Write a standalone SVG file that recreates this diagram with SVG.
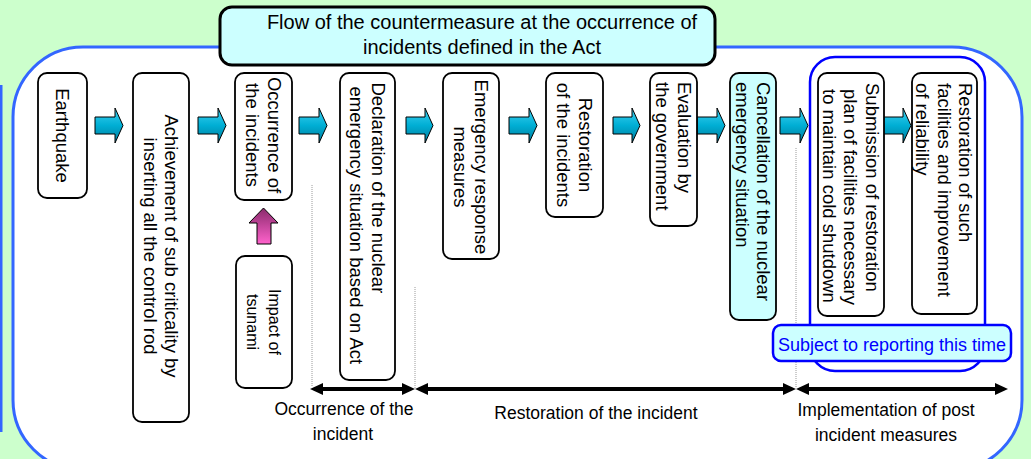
<svg xmlns="http://www.w3.org/2000/svg" width="1031" height="459" viewBox="0 0 1031 459">
<defs>
<style>
.node rect{fill:#fff;stroke:#000;stroke-width:1.8}
.node text,.lbl{font-family:"Liberation Sans",Arial,sans-serif;fill:#000}
.node text{font-size:18.5px}
.lbl{font-size:17.5px;text-anchor:middle}
.title{font-family:"Liberation Sans",Arial,sans-serif;font-size:20px;text-anchor:middle;fill:#000}
.carrow{fill:url(#cyanGrad);stroke:#000;stroke-width:1}
.dot{stroke:#9a9a9a;stroke-width:1;stroke-dasharray:1,1}
.tl{stroke:#000;stroke-width:4;marker-start:url(#ah);marker-end:url(#ah)}
</style>
<linearGradient id="cyanGrad" x1="0" y1="0" x2="0" y2="1">
<stop offset="0" stop-color="#3fd2f2"/>
<stop offset="0.5" stop-color="#00aed4"/>
<stop offset="1" stop-color="#007c9c"/>
</linearGradient>
<linearGradient id="pinkGrad" x1="0" y1="0" x2="0" y2="1">
<stop offset="0" stop-color="#8a2a6c"/>
<stop offset="1" stop-color="#ff62cc"/>
</linearGradient>
<marker id="ah" markerUnits="userSpaceOnUse" markerWidth="14" markerHeight="12" refX="5" refY="6" orient="auto-start-reverse">
<path d="M0,0 L13,6 L0,12 Z" fill="#000"/>
</marker>
</defs>
<rect width="1031" height="459" fill="#ccffcc"/>
<path d="M1,85 V432" stroke="#3366ff" stroke-width="3" fill="none"/>
<rect id="panel" x="13" y="47" width="1009" height="423" rx="70" ry="70" fill="#fff" stroke="#3366ff" stroke-width="3"/>

<g id="title">
<rect x="220" y="7" width="495" height="58" rx="12" fill="#ccffff" stroke="#000" stroke-width="3"/>
<text class="title" x="482" y="28.5">Flow of the countermeasure at the occurrence of</text>
<text class="title" x="482" y="53.5">incidents defined in the Act</text>
</g>

<g id="subject-group">
<rect x="810" y="57" width="175" height="314" rx="25" fill="none" stroke="#0000ff" stroke-width="2.5"/>
</g>

<g id="connectors">
<path class="dot" d="M312,185 V386"/>
<path class="dot" d="M415,287 V388"/>
<path class="dot" d="M796,148 V388"/>
<path class="carrow" d="M95,117 H115 V108 L123,125.5 L115,143 V134 H95 Z"/>
<path class="carrow" d="M198,117 H218 V108 L226,125.5 L218,143 V134 H198 Z"/>
<path class="carrow" d="M299,117 H319 V108 L327,125.5 L319,143 V134 H299 Z"/>
<path class="carrow" d="M406,117 H425 V108 L433,125.5 L425,143 V134 H406 Z"/>
<path class="carrow" d="M509,117 H529 V108 L537,125.5 L529,143 V134 H509 Z"/>
<path class="carrow" d="M613,117 H632 V108 L640,125.5 L632,143 V134 H613 Z"/>
<path class="carrow" d="M697,117 H717 V108 L725,125.5 L717,143 V134 H697 Z"/>
<path class="carrow" d="M780,117 H800 V108 L808,125.5 L800,143 V134 H780 Z"/>
<path class="carrow" d="M883,117 H903 V108 L911,125.5 L903,143 V134 H883 Z"/>
<path d="M257,244 V223 H249 L263.5,208 L278,223 H271 V244 Z" fill="url(#pinkGrad)" stroke="#000" stroke-width="1"/>
<line class="tl" x1="318" y1="389" x2="407" y2="389"/>
<line class="tl" x1="423" y1="389" x2="788" y2="389"/>
<line class="tl" x1="804" y1="389" x2="1000" y2="389"/>
</g>

<g id="n-earthquake" class="node">
<rect x="38" y="73" width="49" height="125" rx="9"/>
<g transform="translate(62.5,135.5) rotate(90)"><text x="0" y="6.6" text-anchor="middle">Earthquake</text></g>
</g>
<g id="n-subcriticality" class="node">
<rect x="133" y="73" width="56" height="349" rx="9"/>
<g transform="translate(161,247.5) rotate(90)" text-anchor="middle">
<text x="-1.5" y="-4.15">Achievement of sub criticality by</text>
<text x="-1.5" y="17.35">inserting all the control rod</text>
</g>
</g>
<g id="n-occurrence" class="node">
<rect x="235" y="73" width="57" height="127" rx="9"/>
<g transform="translate(263.5,136.5) rotate(90)" text-anchor="middle">
<text x="-1.5" y="-4.15">Occurrence of</text>
<text x="-1.5" y="17.35">the incidents</text>
</g>
</g>
<g id="n-tsunami" class="node">
<rect x="236" y="256" width="56" height="132" rx="9"/>
<g transform="translate(264,322) rotate(90)" text-anchor="middle">
<text x="0" y="-5.3" style="font-size:16px">Impact of</text>
<text x="0" y="16.7" style="font-size:16px">tsunami</text>
</g>
</g>
<g id="n-declaration" class="node">
<rect x="340" y="73" width="55" height="307" rx="9"/>
<g transform="translate(367.5,226.5) rotate(90)">
<text x="-144" y="-4.15">Declaration of the nuclear</text>
<text x="-140" y="17.35">emergency situation based on Act</text>
</g>
</g>
<g id="n-emergency" class="node">
<rect x="443" y="73" width="56" height="186" rx="9"/>
<g transform="translate(471,166) rotate(90)" text-anchor="middle">
<text x="1" y="-4.15">Emergency response</text>
<text x="1" y="17.35">measures</text>
</g>
</g>
<g id="n-restoration" class="node">
<rect x="546" y="73" width="57" height="144" rx="9"/>
<g transform="translate(574.5,145) rotate(90)" text-anchor="middle">
<text x="0" y="-4.15">Restoration</text>
<text x="0" y="17.35">of the incidents</text>
</g>
</g>
<g id="n-evaluation" class="node">
<rect x="650" y="73" width="47" height="153" rx="9"/>
<g transform="translate(673.5,149.5) rotate(90)">
<text x="-67.5" y="-4.15">Evaluation by</text>
<text x="-67.5" y="17.35">the government</text>
</g>
</g>
<g id="n-cancellation" class="node">
<rect x="730" y="73" width="46" height="247" rx="9" style="fill:#ccffff"/>
<g transform="translate(753,196.5) rotate(90)">
<text x="-114.5" y="-4.15">Cancellation of the nuclear</text>
<text x="-114.5" y="17.35">emergency situation</text>
</g>
</g>
<g id="n-submission" class="node">
<rect x="818" y="73" width="66" height="243" rx="9"/>
<g transform="translate(851,194.5) rotate(90)">
<text x="-111.5" y="-14.9">Submission of restoration</text>
<text x="-105.5" y="6.6">plan of facilities necessary</text>
<text x="-105.5" y="28.1">to maintain cold shutdown</text>
</g>
</g>
<g id="n-reliability" class="node">
<rect x="912" y="73" width="65" height="241" rx="9"/>
<g transform="translate(944.5,193.5) rotate(90)">
<text x="-110.5" y="-14.9">Restoration of such</text>
<text x="-110.5" y="6.6">facilities and improvement</text>
<text x="-110.5" y="28.1">of reliability</text>
</g>
</g>

<g id="n-subject">
<rect x="773" y="325" width="238" height="36" rx="8" fill="#ccffff" stroke="#0000ff" stroke-width="2.5"/>
<text x="892" y="351" text-anchor="middle" style="font-family:'Liberation Sans',Arial,sans-serif;font-size:18px;fill:#0000ff">Subject to reporting this time</text>
</g>

<g id="labels">
<text class="lbl" x="344" y="415">Occurrence of the</text>
<text class="lbl" x="343" y="440">incident</text>
<text class="lbl" x="596" y="419">Restoration of the incident</text>
<text class="lbl" x="886" y="416">Implementation of post</text>
<text class="lbl" x="886" y="441">incident measures</text>
</g>
</svg>
